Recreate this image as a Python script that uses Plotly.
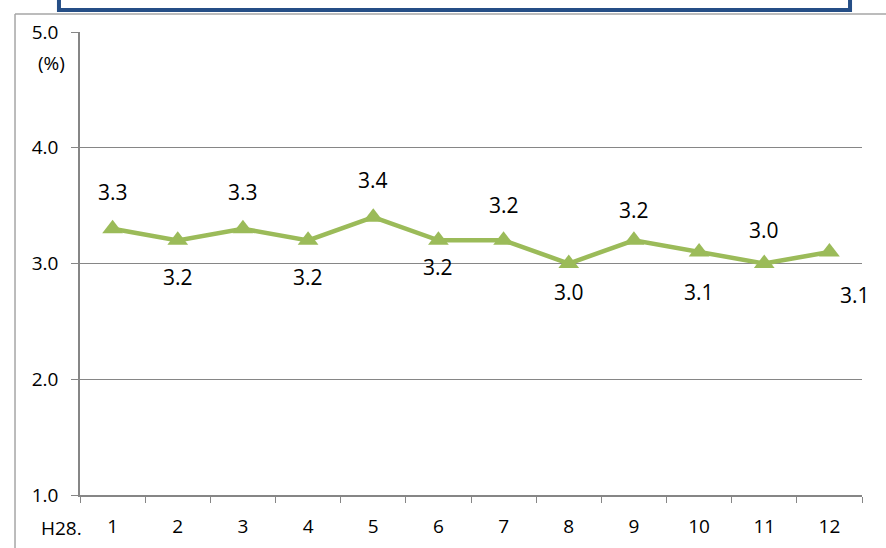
import plotly.graph_objects as go

months = ["1", "2", "3", "4", "5", "6", "7", "8", "9", "10", "11", "12"]
rates = [3.3, 3.2, 3.3, 3.2, 3.4, 3.2, 3.2, 3.0, 3.2, 3.1, 3.0, 3.1]
rate_labels = ["3.3", "3.2", "3.3", "3.2", "3.4", "3.2", "3.2", "3.0", "3.2", "3.1", "3.0", "3.1"]
y_ticks = [1.0, 2.0, 3.0, 4.0, 5.0]
y_tick_text = ["1.0", "2.0", "3.0", "4.0", "5.0"]

# label offsets (px) above/below each point
label_dy = [37, -37, 37, -37, 37, -27, 35, -28, 30, -40, 34, -43]
label_dx = [0, 0, 0, 0, 0, 0, 0, 0, 0, 0, 0, 26]

green = "#9BBB59"
gray = "#868686"
font_name = "Open Sans"

fig = go.Figure()
fig.add_trace(go.Scatter(
    x=months, y=rates, mode="lines+markers",
    line=dict(color=green, width=4.5),
    marker=dict(symbol="triangle-up", size=18, color=green),
    hoverinfo="skip", showlegend=False,
))

for i, (v, t, dy, dx) in enumerate(zip(rates, rate_labels, label_dy, label_dx)):
    fig.add_annotation(x=i, y=v, text=t, showarrow=False, yshift=dy, xshift=dx,
                       font=dict(family=font_name, size=21, color="#000000"))

fig.add_annotation(xref="paper", yref="paper", x=-0.024, y=-0.071, text="H28.",
                   xanchor="center", yanchor="middle",
                   showarrow=False, font=dict(family=font_name, size=19, color="#000000"))
fig.add_annotation(xref="paper", yref="paper", x=-0.036, y=0.932, text="(%)",
                   xanchor="center", yanchor="middle",
                   showarrow=False, font=dict(family=font_name, size=19, color="#000000"))

# chart area frame and the title box cut off at the top
fig.add_shape(type="line", xref="paper", yref="paper", x0=-0.0831, x1=-0.0831, y0=-0.2, y1=1.0389,
              line=dict(color="#A6A6A6", width=1.5))
fig.add_shape(type="line", xref="paper", yref="paper", x0=-0.0831, x1=1.1, y0=1.0389, y1=1.0389,
              line=dict(color="#A6A6A6", width=1.5))
fig.add_shape(type="rect", xref="paper", yref="paper", x0=-0.0269, x1=0.9847, y0=1.0475, y1=1.2,
              line=dict(color="#254E86", width=4), fillcolor="white")

fig.update_layout(
    width=886, height=548,
    margin=dict(l=80, r=24, t=32, b=53),
    paper_bgcolor="white", plot_bgcolor="white",
    font=dict(family=font_name, size=19, color="#000000"),
    xaxis=dict(
        type="category", tickson="boundaries", ticks="outside", ticklen=6,
        tickcolor=gray, showgrid=False, showline=True, linecolor=gray, linewidth=1.5,
        tickfont=dict(size=19), range=[-0.5, 11.5], ticklabelstandoff=13,
        automargin=False,
    ),
    yaxis=dict(
        range=[1.0, 5.0], tickvals=y_ticks, ticktext=y_tick_text, ticks="outside",
        ticklen=7, tickcolor=gray, showgrid=True, gridcolor=gray, gridwidth=1,
        showline=True, linecolor=gray, linewidth=1.5, zeroline=False,
        tickfont=dict(size=19), ticklabelstandoff=9, automargin=False,
    ),
)

# drop the page's default body margin so the figure fills the window
fig.write_html("out.html", config={"displayModeBar": False},
               post_script="document.body.style.margin='0';")
